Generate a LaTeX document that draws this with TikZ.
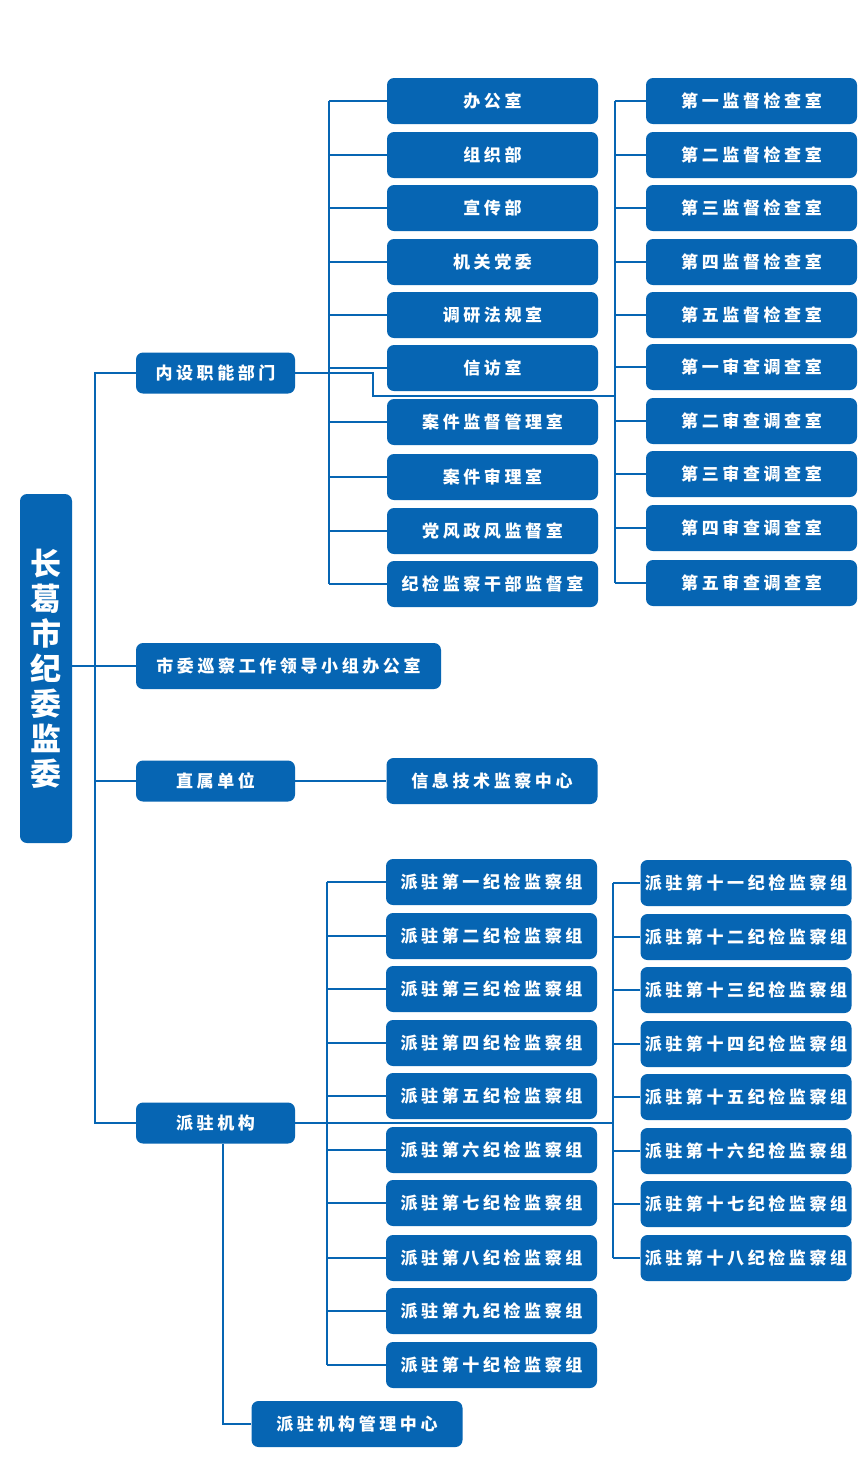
\documentclass[tikz,border=0pt]{standalone}
\usepackage{fontspec}
\newfontfamily\cjk{Noto Sans CJK SC}
\definecolor{jblue}{RGB}{6,101,179}
\makeatletter
\newcommand\spc[1]{\let\spc@first\relax\@tfor\spc@c:=#1\do{\ifx\spc@first\relax\else\kern3.6pt\fi\let\spc@first\empty\spc@c}}
\makeatother
\begin{document}
\begin{tikzpicture}[x=1pt,y=-1pt,
  box/.style={fill=jblue, rounded corners=7pt, text=white, inner sep=0pt,
    font=\cjk\bfseries\fontsize{17}{17}\selectfont, minimum height=46pt, minimum width=211pt},
  lvl/.style={box, minimum height=41pt, minimum width=159pt},
  conn/.style={draw=jblue, line width=1.1pt}]
\useasboundingbox (0,0) rectangle (858,1460);
\fill[white] (0,0) rectangle (858,1460);
% root
\node[box, minimum width=52pt, minimum height=349pt, align=center,
  font=\cjk\bfseries\fontsize{31}{35}\selectfont] (root) at (46,668.5)
  {长\\葛\\市\\纪\\委\\监\\委};
% level 1
\node[lvl] (nb) at (215.5,373) {\spc{内设职能部门}};
\node[box, minimum width=305pt] (sw) at (288.5,666) {\spc{市委巡察工作领导小组办公室}};
\node[lvl] (zs) at (215.5,781) {\spc{直属单位}};
\node[lvl] (pz) at (215.5,1123) {\spc{派驻机构}};
\node[box] (xx) at (492,781) {\spc{信息技术监察中心}};
\node[box] (mgr) at (357,1424) {\spc{派驻机构管理中心}};
% upper left column
\foreach \t/\y [count=\i] in {办公室/101,组织部/155,宣传部/208,机关党委/262,调研法规室/315,信访室/368,案件监督管理室/422,案件审理室/477,党风政风监督室/531,纪检监察干部监督室/584}
  \node[box] (a\i) at (492.5,\y) {\expandafter\spc\expandafter{\t}};
% upper right column
\foreach \t/\y [count=\i] in {第一监督检查室/101,第二监督检查室/155,第三监督检查室/208,第四监督检查室/262,第五监督检查室/315,第一审查调查室/367,第二审查调查室/421,第三审查调查室/474,第四审查调查室/528,第五审查调查室/583}
  \node[box] (b\i) at (751.5,\y) {\expandafter\spc\expandafter{\t}};
% lower left column
\foreach \t/\y [count=\i] in {派驻第一纪检监察组/882,派驻第二纪检监察组/936,派驻第三纪检监察组/989,派驻第四纪检监察组/1043,派驻第五纪检监察组/1096,派驻第六纪检监察组/1150,派驻第七纪检监察组/1203,派驻第八纪检监察组/1258,派驻第九纪检监察组/1311,派驻第十纪检监察组/1365}
  \node[box] (c\i) at (491.5,\y) {\expandafter\spc\expandafter{\t}};
% lower right column
\foreach \t/\y [count=\i] in {派驻第十一纪检监察组/883,派驻第十二纪检监察组/937,派驻第十三纪检监察组/990,派驻第十四纪检监察组/1044,派驻第十五纪检监察组/1097,派驻第十六纪检监察组/1151,派驻第十七纪检监察组/1204,派驻第十八纪检监察组/1258}
  \node[box] (d\i) at (746,\y) {\expandafter\spc\expandafter{\t}};
% bus coordinates
\coordinate (trunk) at (95,0);
\coordinate (busA) at (329,0);
\coordinate (busB) at (615,0);
\coordinate (bend) at (373,396);
\coordinate (busC) at (327,0);
\coordinate (busD) at (613,0);
\coordinate (drop) at (223,0);
% connectors
\draw[conn] (root.east |- sw.west) -- (sw.west);
\draw[conn] (nb.west) -- (nb.west -| trunk) -- (pz.west -| trunk) -- (pz.west);
\draw[conn] (zs.west) -- (zs.west -| trunk);
\draw[conn] (zs.east) -- (xx.west);
\draw[conn] (nb.east) -| (bend) -- (bend -| busB);
\draw[conn] (a1.west -| busA) -- (a10.west -| busA);
\foreach \i in {1,...,10} \draw[conn] (a\i.west) -- (a\i.west -| busA);
\draw[conn] (b1.west -| busB) -- (b10.west -| busB);
\foreach \i in {1,...,10} \draw[conn] (b\i.west) -- (b\i.west -| busB);
\draw[conn] (c1.west -| busC) -- (c10.west -| busC);
\foreach \i in {1,...,10} \draw[conn] (c\i.west) -- (c\i.west -| busC);
\draw[conn] (d1.west -| busD) -- (d8.west -| busD);
\foreach \i in {1,...,8} \draw[conn] (d\i.west) -- (d\i.west -| busD);
\draw[conn] (pz.east) -- (pz.east -| busD);
\draw[conn] (pz.south -| drop) |- (mgr.west);
\end{tikzpicture}
\end{document}
